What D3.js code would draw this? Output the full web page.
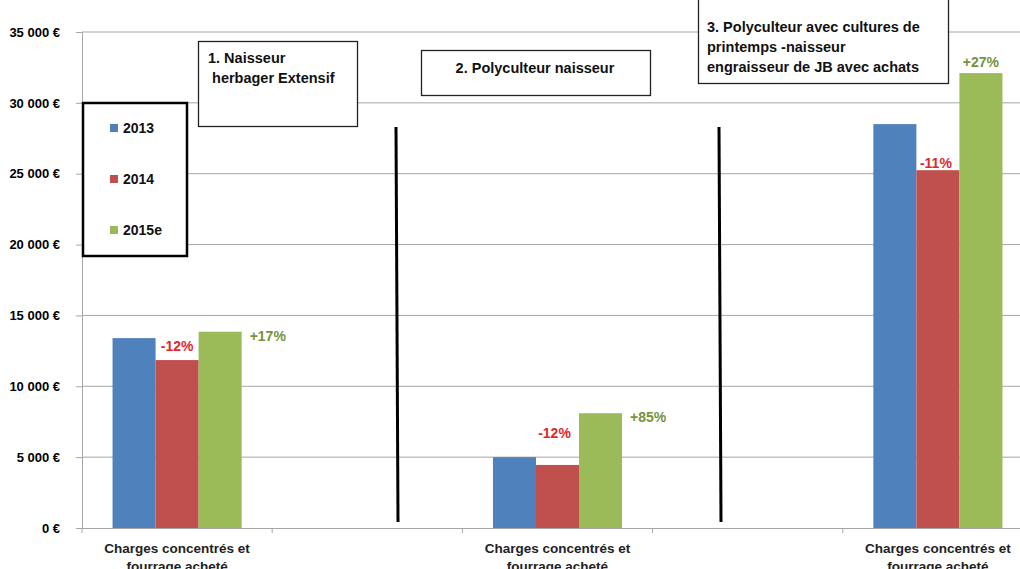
<!DOCTYPE html>
<html>
<head>
<meta charset="utf-8">
<script src="https://cdn.jsdelivr.net/npm/d3@7"></script>
<style>
  body { margin: 0; background: #fff; }
  svg { display: block; font-family: "Liberation Sans", Arial, sans-serif; }
</style>
</head>
<body>
<svg id="chart" width="1020" height="569"></svg>
<script>
// données
var slots = ["g1", "s1", "g2", "s2", "g3"];
var slotLabels = ["Charges concentrés et|fourrage acheté", "", "Charges concentrés et|fourrage acheté", "", "Charges concentrés et|fourrage acheté"];
var series = ["2013", "2014", "2015e"];
var values2013 = [13400, null, 5000, null, 28500];
var values2014 = [11850, null, 4450, null, 25250];
var values2015 = [13850, null, 8100, null, 32100];
var pct2014 = ["-12%", null, "-12%", null, "-11%"];
var pct2015 = ["+17%", null, "+85%", null, "+27%"];
var yTicks = [0, 5000, 10000, 15000, 20000, 25000, 30000, 35000];
var groupTitles = [
  ["1. Naisseur", " herbager Extensif"],
  ["2. Polyculteur naisseur"],
  ["3. Polyculteur avec cultures de", "printemps -naisseur", "engraisseur de JB avec achats"]
];

var colors = {"2013": "#4f81bd", "2014": "#c0504d", "2015e": "#9bbb59"};
var svg = d3.select("#chart");
var mLeft = 82, mRight = 1033, mTop = 32, mBottom = 528;

var x = d3.scaleBand().domain(slots).range([mLeft, mRight]);
var xs = d3.scaleBand().domain(series).range([0, x.bandwidth()]).paddingOuter(0.71);
var y = d3.scaleLinear().domain([0, 35000]).range([mBottom, mTop]);

var fmt = function(d) { return d3.format(",")(d).replace(/,/g, " ") + " €"; };

// grille
svg.append("g").selectAll("line")
  .data(yTicks.slice(1))
  .enter().append("line")
    .attr("x1", mLeft).attr("x2", 1020)
    .attr("y1", function(d) { return y(d); }).attr("y2", function(d) { return y(d); })
    .attr("stroke", "#a6a6a6").attr("stroke-width", 1);

// axe y
var yAxis = svg.append("g")
  .attr("transform", "translate(" + mLeft + ",0)")
  .call(d3.axisLeft(y).tickValues(yTicks).tickFormat(fmt).tickSize(6).tickPadding(16));
yAxis.select(".domain").attr("stroke", "#a6a6a6");
yAxis.selectAll(".tick line").attr("stroke", "#a6a6a6");
yAxis.selectAll("text").attr("font-size", 13).attr("font-weight", "bold").attr("fill", "#000");

// axe x
var xAxis = svg.append("g")
  .attr("transform", "translate(0," + mBottom + ")")
  .call(d3.axisBottom(x).tickSize(0).tickFormat(""));
xAxis.select(".domain").attr("stroke", "#a6a6a6");
svg.append("g").selectAll("line")
  .data(slots.map(function(s) { return x(s); }).concat([mRight]))
  .enter().append("line")
    .attr("x1", function(d) { return d; }).attr("x2", function(d) { return d; })
    .attr("y1", mBottom).attr("y2", mBottom + 5)
    .attr("stroke", "#a6a6a6");

slotLabels.forEach(function(lbl, i) {
  if (!lbl) return;
  var t = svg.append("text")
    .attr("text-anchor", "middle")
    .attr("font-size", 13.5).attr("font-weight", "bold").attr("fill", "#222");
  lbl.split("|").forEach(function(part, j) {
    t.append("tspan").attr("x", x(slots[i]) + x.bandwidth() / 2).attr("y", 553 + j * 18).text(part);
  });
});

// barres
var valuesBySeries = {"2013": values2013, "2014": values2014, "2015e": values2015};
series.forEach(function(s) {
  svg.append("g").selectAll("rect")
    .data(slots.map(function(k, i) { return {slot: k, v: valuesBySeries[s][i]}; })
      .filter(function(d) { return d.v != null; }))
    .enter().append("rect")
      .attr("x", function(d) { return x(d.slot) + xs(s); })
      .attr("width", xs.bandwidth())
      .attr("y", function(d) { return y(d.v); })
      .attr("height", function(d) { return mBottom - y(d.v); })
      .attr("fill", colors[s]);
});

// étiquettes de variation
var redOffsets = [[0, -9], null, [-3, -27], null, [-2, -2]];
var greenPlace = ["right", null, "right", null, "above"];
slots.forEach(function(k, i) {
  if (pct2014[i]) {
    var cx = x(k) + xs("2014") + xs.bandwidth() / 2;
    svg.append("text")
      .attr("x", cx + redOffsets[i][0]).attr("y", y(values2014[i]) + redOffsets[i][1])
      .attr("text-anchor", "middle")
      .attr("font-size", 14).attr("font-weight", "bold").attr("fill", "#e0282b")
      .text(pct2014[i]);
  }
  if (pct2015[i]) {
    var gx = x(k) + xs("2015e");
    var t = svg.append("text")
      .attr("font-size", 14).attr("font-weight", "bold").attr("fill", "#76923c")
      .text(pct2015[i]);
    if (greenPlace[i] == "right") {
      t.attr("x", gx + xs.bandwidth() + 8).attr("y", y(values2015[i]) + 9);
    } else {
      t.attr("x", gx + xs.bandwidth() / 2).attr("y", y(values2015[i]) - 6).attr("text-anchor", "middle");
    }
  }
});

// séparateurs
[396, 719].forEach(function(px) {
  svg.append("line")
    .attr("x1", px).attr("x2", px + 2)
    .attr("y1", 127).attr("y2", 522)
    .attr("stroke", "#000").attr("stroke-width", 3);
});

// cadres de titres
var boxes = [
  {x: 198, y: 41, w: 159, h: 85, tx: 208, ty: 63, anchor: "start"},
  {x: 421, y: 50, w: 229, h: 45, tx: 535, ty: 73, anchor: "middle"},
  {x: 698, y: -5, w: 250, h: 88, tx: 707, ty: 32, anchor: "start"}
];
boxes.forEach(function(b, i) {
  svg.append("rect")
    .attr("x", b.x + 0.5).attr("y", b.y + 0.5).attr("width", b.w).attr("height", b.h)
    .attr("fill", "#fff").attr("stroke", "#222").attr("stroke-width", 1.3);
  var t = svg.append("text")
    .attr("text-anchor", b.anchor)
    .attr("font-size", 14.5).attr("font-weight", "bold").attr("fill", "#111");
  groupTitles[i].forEach(function(line, j) {
    t.append("tspan").attr("x", b.tx).attr("y", b.ty + j * 20).attr("xml:space", "preserve").text(line);
  });
});

// légende
svg.append("rect")
  .attr("x", 83).attr("y", 103).attr("width", 104).attr("height", 153)
  .attr("fill", "#fff").attr("stroke", "#000").attr("stroke-width", 2.5);
series.forEach(function(s, i) {
  var ly = 128 + i * 51;
  svg.append("rect").attr("x", 110).attr("y", ly - 4).attr("width", 8).attr("height", 8).attr("fill", colors[s]);
  svg.append("text").attr("x", 123).attr("y", ly + 5)
    .attr("font-size", 14).attr("font-weight", "bold").attr("fill", "#111").text(s);
});
</script>
</body>
</html>
